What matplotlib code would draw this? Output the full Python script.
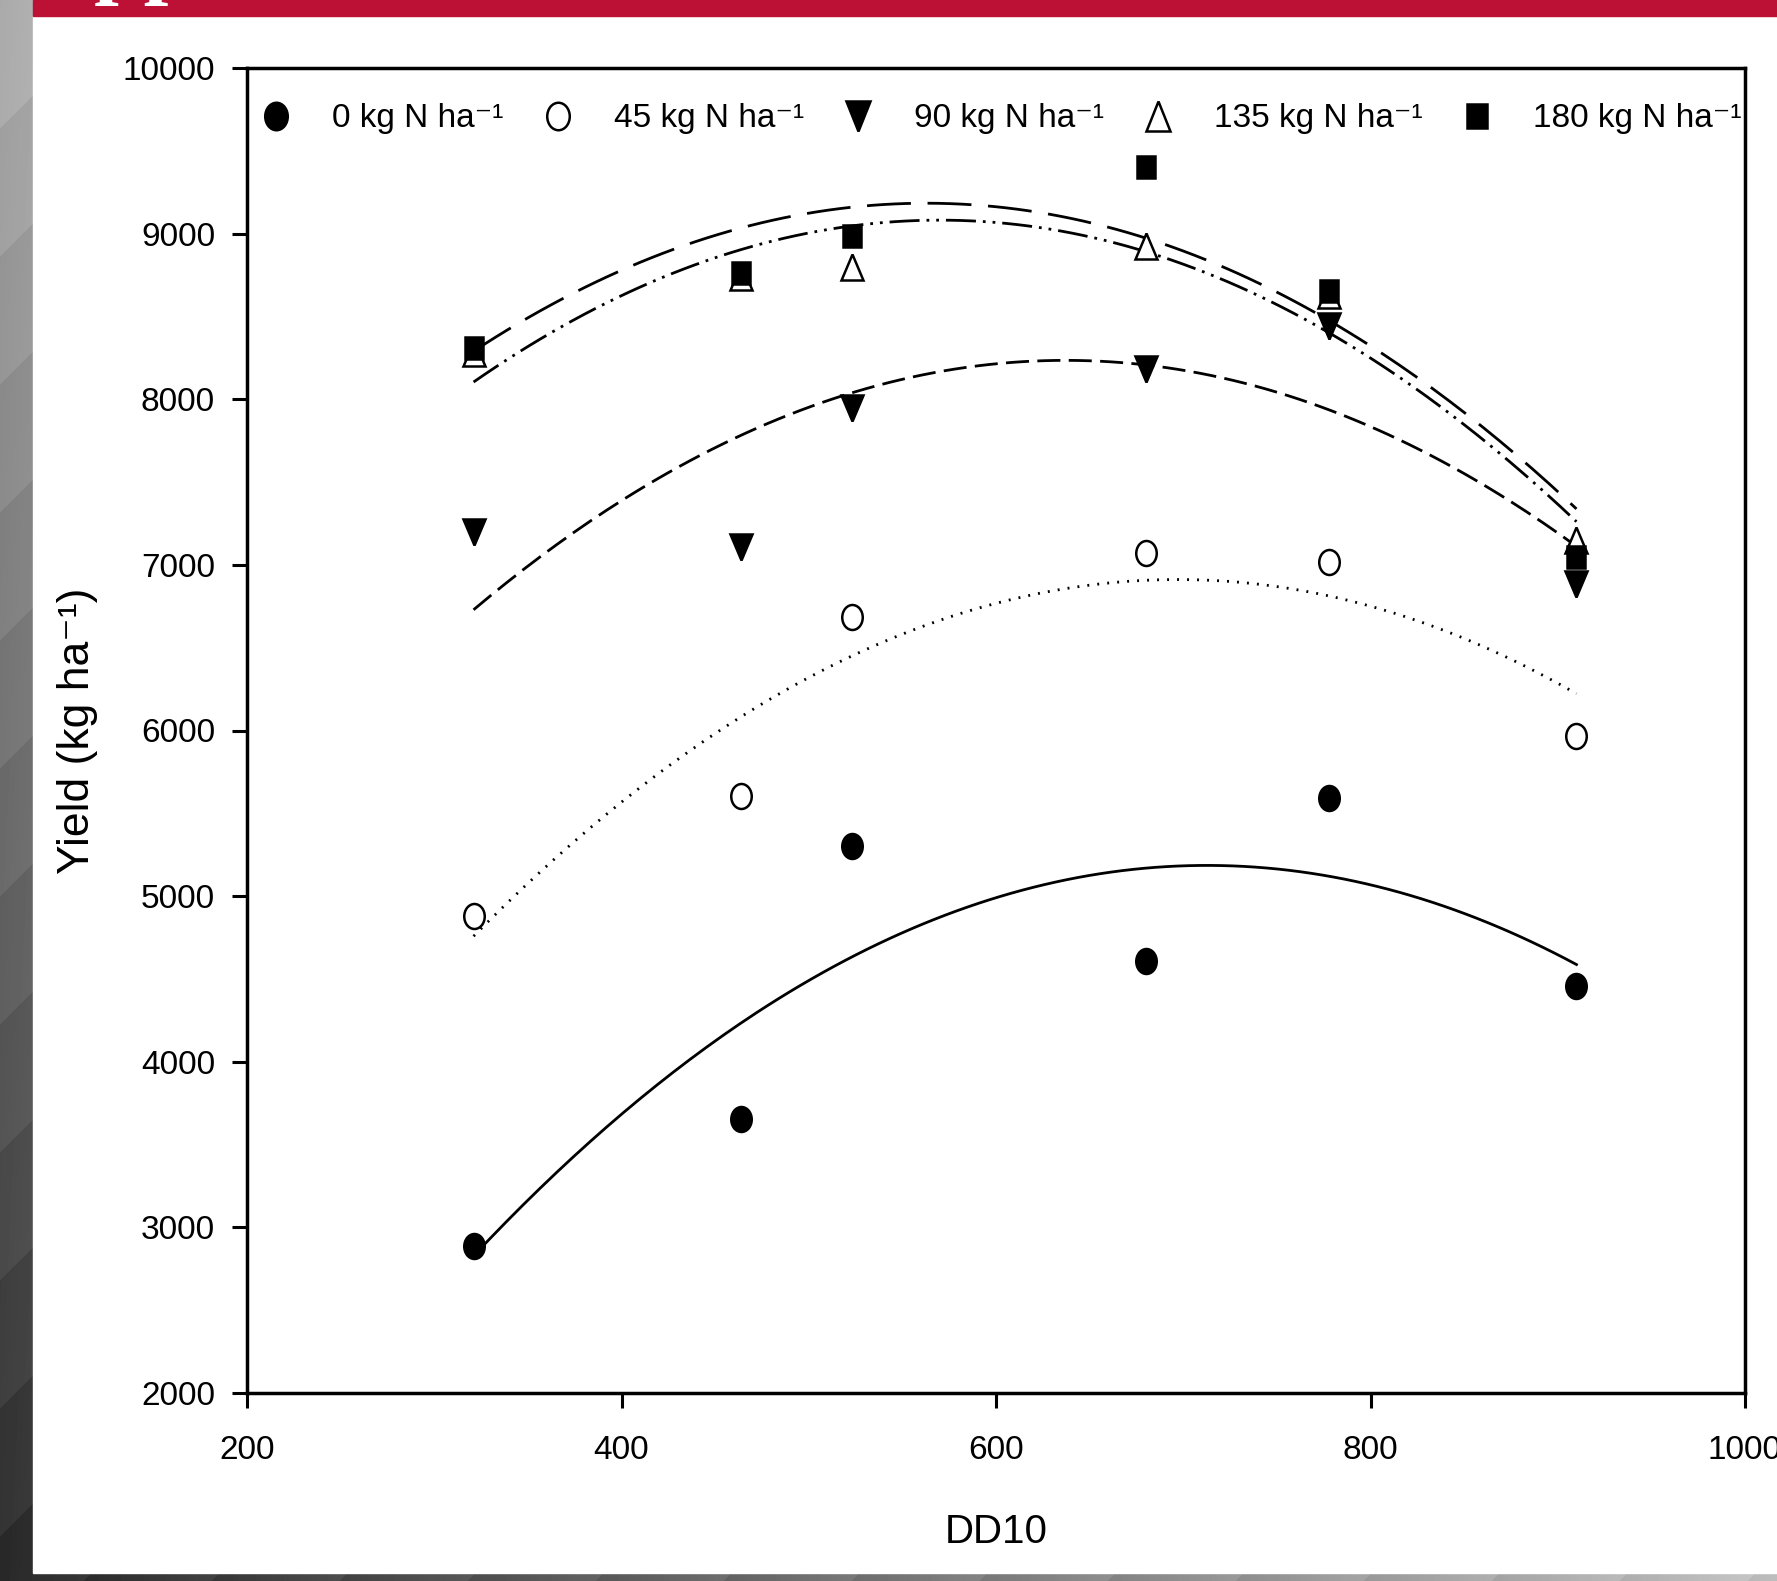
import numpy as np
import matplotlib
matplotlib.use("Agg")
import matplotlib.pyplot as plt
from matplotlib.markers import MarkerStyle
from matplotlib.transforms import Affine2D
from matplotlib.patches import Rectangle

plt.rcParams['font.family'] = ['Liberation Sans', 'DejaVu Sans']

# data
dd10 = [321, 464, 523, 680, 778, 910]
y_0 = [2890, 3656, 5305, 4607, 5593, 4457]
y_45 = [4881, 5606, 6688, 7071, 7016, 5969]
y_90 = [7201, 7105, 7947, 8180, 8440, 6886]
y_135 = [8280, 8740, 8796, 8926, 8630, 7153]
y_180 = [8310, 8761, 8987, 9405, 8652, 7050]
labels = ['0 kg N ha⁻¹', '45 kg N ha⁻¹', '90 kg N ha⁻¹',
          '135 kg N ha⁻¹', '180 kg N ha⁻¹']

# quadratic fit lines, read at three DD10 values off the picture
curve_x = [321, 680, 910]
fit_0 = [2828, 5169, 4587]
fit_45 = [4758, 6907, 6222]
fit_90 = [6729, 8207, 7112]
fit_135 = [8104, 8891, 7261]
fit_180 = [8290, 8973, 7338]

W, H = 1777, 1581
fig = plt.figure(figsize=(W / 100, H / 100), dpi=100)

# slide background: grey gradient, white panel, red title bar
bg = fig.add_axes([0, 0, 1, 1], zorder=-10)
bg.axis('off')
yy, xx = np.mgrid[0:H, 0:W]
shade = 176 + (xx - yy) * 134 / 1581 + 12 * (((xx + yy) % 128) / 128 - 0.5)
shade = np.clip(shade, 30, 200) / 255
bg.imshow(shade, cmap='gray', vmin=0, vmax=1, extent=(0, 1, 0, 1),
          aspect='auto', interpolation='nearest')
bg.add_patch(Rectangle((33 / W, 8 / H), 1 - 33 / W, 1 - 24 / H,
                       transform=bg.transAxes, color='white'))
bg.add_patch(Rectangle((33 / W, 1 - 16 / H), 1 - 33 / W, 16 / H,
                       transform=bg.transAxes, color='#BD1035'))
bg.set_xlim(0, 1)
bg.set_ylim(0, 1)
fig.text(30 / W, 1 + 13 / H, 'Application', color='white', fontsize=64,
         family='Liberation Serif', weight='bold', va='baseline')

ax = fig.add_axes([247 / W, 1 - 1393 / H, (1745 - 247) / W, (1393 - 68) / H])

squeeze = Affine2D().scale(0.82, 1)
series = [y_0, y_45, y_90, y_135, y_180]
fits = [fit_0, fit_45, fit_90, fit_135, fit_180]
markers = ['o', 'o', 'v', '^', 's']
faces = ['black', 'white', 'black', 'white', 'black']
sizes = [18, 18, 19, 19, 16]
styles = ['-', (0, (0.7, 2.9)), (0, (8.3, 3)),
          (0, (10.8, 2.5, 1, 2.5, 1, 2.5)), (0, (15.8, 6))]

xfit = np.linspace(min(curve_x), max(curve_x), 200)
for fy, ls in zip(fits, styles):
    coef = np.polyfit(curve_x, fy, 2)
    ax.plot(xfit, np.polyval(coef, xfit), color='black', lw=2, ls=ls, zorder=2)

for ys, m, fc, ms, lab in zip(series, markers, faces, sizes, labels):
    ax.plot(dd10, ys, ls='none', marker=MarkerStyle(m, transform=squeeze),
            ms=ms, mfc=fc, mec='black', mew=1.8, zorder=3, label=lab)

ax.set_xlim(200, 1000)
ax.set_ylim(2000, 10000)
ax.set_xticks([200, 400, 600, 800, 1000])
ax.set_yticks(range(2000, 10001, 1000))
ax.tick_params(direction='out', length=11, width=2.2, labelsize=24)
ax.tick_params(axis='x', pad=19)
ax.tick_params(axis='y', pad=12)
for s in ax.spines.values():
    s.set_linewidth(2.5)

ax.set_xlabel('DD10', fontsize=29)
ax.xaxis.set_label_coords(0.5, (1393 - 1532) / 1325)
ax.xaxis.label.set_va('center')
ax.set_ylabel('Yield (kg ha⁻¹)', fontsize=32)
ax.yaxis.set_label_coords((78 - 247) / 1498, 0.5)
ax.yaxis.label.set_va('center')

ax.legend(loc='center left', bbox_to_anchor=(0.0085, (1393 - 119) / 1325),
          ncol=5, frameon=False, fontsize=24, handlelength=1.0,
          handletextpad=1.18, columnspacing=1.12, borderpad=0,
          borderaxespad=0, markerscale=1.1)

fig.savefig('out.png', dpi=100)
